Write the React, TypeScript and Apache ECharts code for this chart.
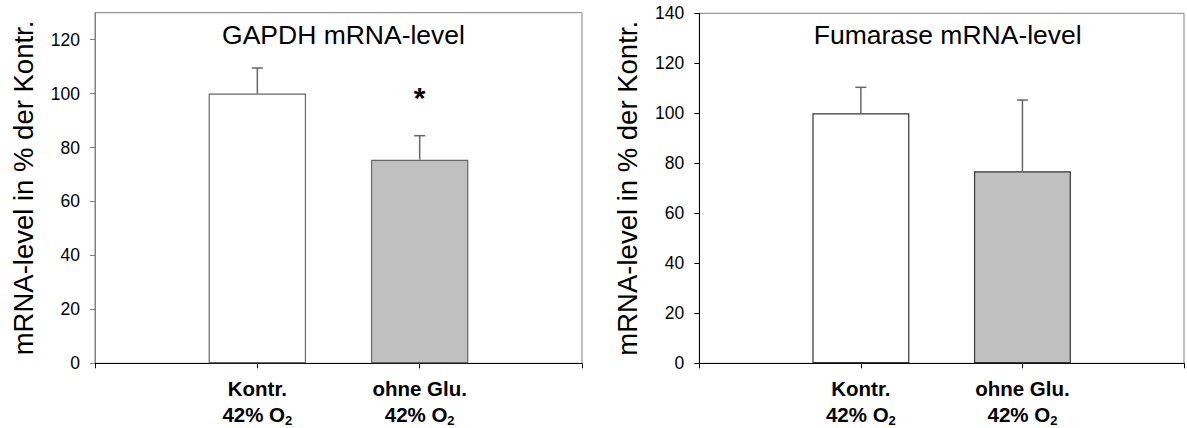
import React, { useEffect, useRef } from "react";
import * as echarts from "echarts";

// ---- data ----
const categories = ["Kontr.", "ohne Glu."];
const conditionMain = "42% O";
const conditionSub = "2";
const barColors = ["#ffffff", "#c0c0c0"];

const gapdhTitle = "GAPDH mRNA-level";
const gapdhValues = [100, 75.5];
const gapdhErrors = [9.5, 8.9];
const gapdhSignif = ["", "*"];
const gapdhSignifAt = [0, 98.4];
const gapdhTicks = [0, 20, 40, 60, 80, 100, 120];
const gapdhMax = 130;

const fumTitle = "Fumarase mRNA-level";
const fumValues = [100, 76.8];
const fumErrors = [10.4, 28.5];
const fumTicks = [0, 20, 40, 60, 80, 100, 120, 140];
const fumMax = 140;

const yName = "mRNA-level in % der Kontr.";

const FONT = "'Liberation Sans', Arial, sans-serif";

export default function App() {
  const ref = useRef<HTMLDivElement>(null);

  useEffect(() => {
    document.body.style.margin = "0";
    if (!ref.current) return;
    const chart = echarts.init(ref.current, null, { renderer: "svg" });

    const axisCats = ["", ...categories, ""];

    const grids = [
      { left: 95, top: 12.7, width: 487, height: 350.6 },
      { left: 699.3, top: 13.3, width: 486.7, height: 350 },
    ];

    const mkX = (gi: number) => ({
      type: "category",
      gridIndex: gi,
      data: axisCats,
      boundaryGap: false,
      axisLine: { lineStyle: { color: "#000", width: 1 } },
      axisTick: { show: true, length: 5, interval: 0, lineStyle: { color: "#000" } },
      axisLabel: {
        interval: 0,
        margin: 12,
        fontFamily: FONT,
        formatter: (v: string) =>
          v ? `{a|${v}}\n{a|${conditionMain}}{s|${conditionSub}}` : "",
        rich: {
          a: { fontSize: 20.5, fontWeight: "bold", color: "#000", lineHeight: 26, fontFamily: FONT },
          s: {
            fontSize: 13,
            fontWeight: "bold",
            color: "#000",
            lineHeight: 7,
            verticalAlign: "bottom",
            fontFamily: FONT,
          },
        },
      },
      splitLine: { show: false },
    });

    const mkY = (gi: number, max: number, ticks: number[], lineColor: string) => ({
      type: "value",
      gridIndex: gi,
      min: 0,
      max,
      interval: 20,
      name: yName,
      nameLocation: "middle",
      nameGap: 58,
      nameTextStyle: { fontSize: 27.5, color: "#000", fontFamily: FONT },
      axisLine: { show: true, lineStyle: { color: lineColor, width: 1 } },
      axisTick: {
        show: true,
        length: 5,
        customValues: ticks,
        lineStyle: { color: lineColor },
      },
      axisLabel: {
        customValues: ticks,
        fontSize: 17.5,
        color: "#000",
        margin: 15,
        fontFamily: FONT,
      },
      splitLine: { show: false },
    });

    const barSeries = (gi: number, values: number[], border: string) => ({
      type: "bar",
      xAxisIndex: gi,
      yAxisIndex: gi,
      barWidth: "60%",
      data: [
        "-",
        ...values.map((v, i) => ({
          value: v,
          itemStyle: { color: barColors[i], borderColor: border, borderWidth: 1.2 },
        })),
        "-",
      ],
    });

    const errSeries = (
      gi: number,
      values: number[],
      errors: number[],
      signif: string[],
      signifAt: number[]
    ) => ({
      type: "custom",
      xAxisIndex: gi,
      yAxisIndex: gi,
      data: values.map((v, i) => [i + 1, v, errors[i], signifAt[i]]),
      renderItem: (params: any, api: any) => {
        const idx = params.dataIndex;
        const x = api.value(0);
        const v = api.value(1);
        const e = api.value(2);
        const p0 = api.coord([x, v]);
        const p1 = api.coord([x, v + e]);
        const children: any[] = [
          {
            type: "line",
            shape: { x1: p0[0], y1: p0[1], x2: p1[0], y2: p1[1] },
            style: { stroke: "#666", lineWidth: 1.5 },
          },
          {
            type: "line",
            shape: { x1: p1[0] - 5.5, y1: p1[1], x2: p1[0] + 5.5, y2: p1[1] },
            style: { stroke: "#666", lineWidth: 1.5 },
          },
        ];
        if (signif[idx]) {
          const ps = api.coord([x, api.value(3)]);
          children.push({
            type: "text",
            x: ps[0],
            y: ps[1],
            style: {
              text: signif[idx],
              fontSize: 30,
              fontWeight: "bold",
              fill: "#000",
              align: "center",
              verticalAlign: "middle",
              fontFamily: FONT,
            },
          });
        }
        return { type: "group", children };
      },
      z: 5,
    });

    chart.setOption({
      animation: false,
      backgroundColor: "#fff",
      title: [
        {
          text: gapdhTitle,
          left: 338.5,
          top: 16,
          textAlign: "center",
          textStyle: { fontSize: 26.5, fontWeight: "normal", color: "#000", fontFamily: FONT },
        },
        {
          text: fumTitle,
          left: 942.7,
          top: 16,
          textAlign: "center",
          textStyle: { fontSize: 26.5, fontWeight: "normal", color: "#000", fontFamily: FONT },
        },
      ],
      grid: grids.map((g) => ({
        ...g,
        show: true,
        borderColor: "#808080",
        borderWidth: 1,
        backgroundColor: "transparent",
        containLabel: false,
      })),
      xAxis: [mkX(0), mkX(1)],
      yAxis: [mkY(0, gapdhMax, gapdhTicks, "#808080"), mkY(1, fumMax, fumTicks, "#000")],
      series: [
        barSeries(0, gapdhValues, "#666"),
        errSeries(0, gapdhValues, gapdhErrors, gapdhSignif, gapdhSignifAt),
        barSeries(1, fumValues, "#333"),
        errSeries(1, fumValues, fumErrors, ["", ""], [0, 0]),
      ],
    });

    return () => chart.dispose();
  }, []);

  return <div ref={ref} style={{ width: 1187, height: 428 }} />;
}
